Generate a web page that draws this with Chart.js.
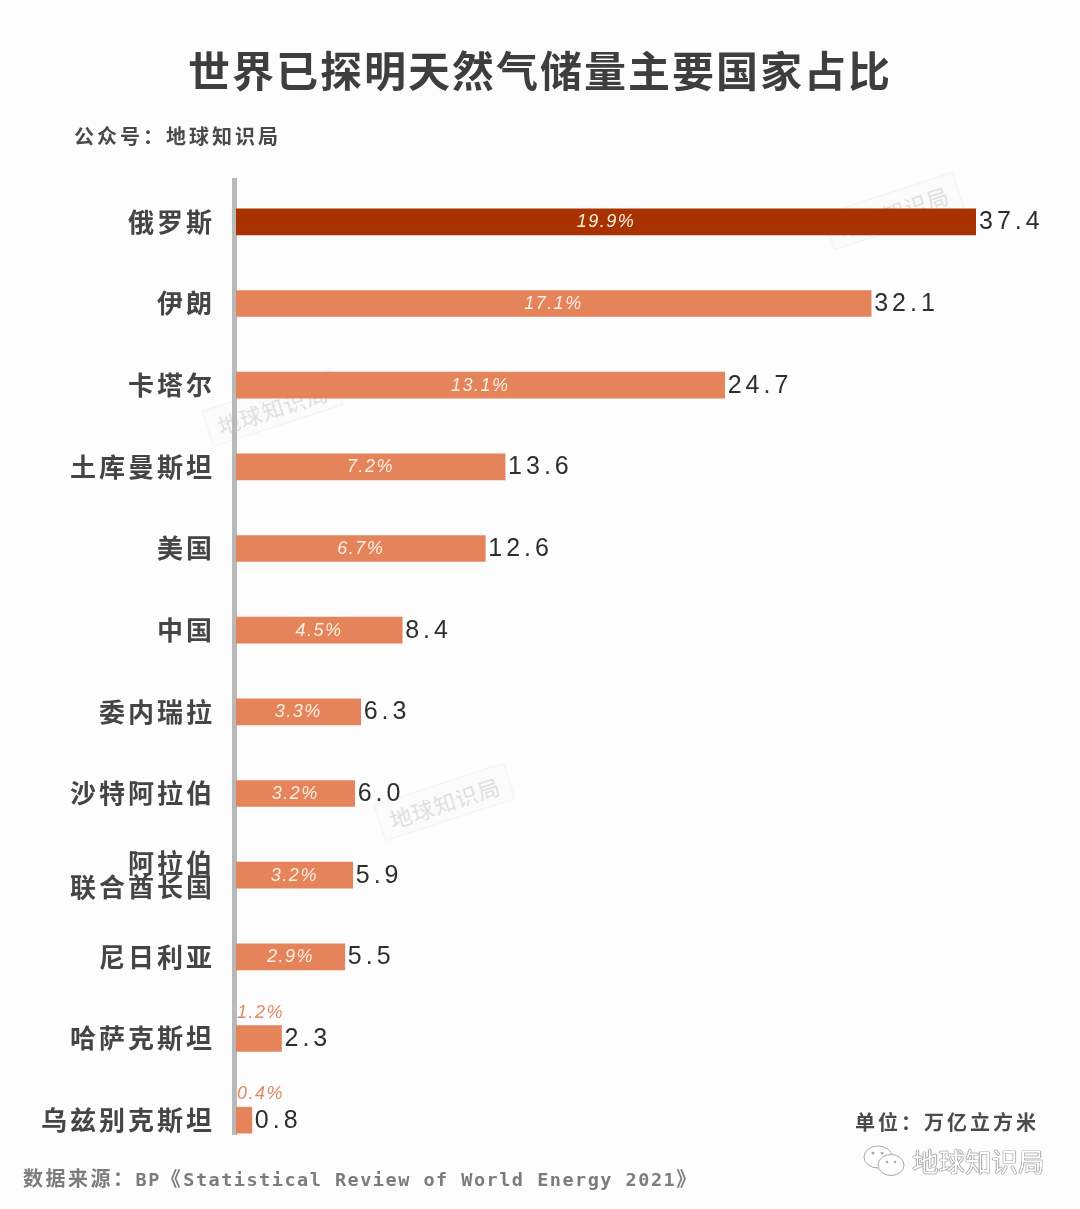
<!DOCTYPE html>
<html lang="zh">
<head>
<meta charset="utf-8">
<title>世界已探明天然气储量主要国家占比</title>
<script src="https://cdn.jsdelivr.net/npm/chart.js@4"></script>
<style>
  html, body { margin: 0; padding: 0; background: #fdfdfd; }
  #page { position: relative; width: 1080px; height: 1209px; overflow: hidden; font-family: "Noto Sans CJK SC", sans-serif; }
  #page div { position: absolute; white-space: nowrap; }
  #page canvas { position: absolute; left: 0; top: 0; }
  #title { left: 0; width: 1080px; top: 39px; text-align: center; font-size: 42px; line-height: 60px; font-weight: 700; letter-spacing: 2px; color: #3e3e3e; }
  #sub { left: 74px; top: 122px; font-size: 20px; line-height: 28px; font-weight: 700; letter-spacing: 3px; color: #4a4a4a; }
  #unit { left: 855px; top: 1108px; font-size: 20px; line-height: 28px; font-weight: 700; letter-spacing: 3px; color: #4a4a4a; }
  #source { left: 23px; top: 1164px; font-family: "DejaVu Sans Mono", "Noto Sans CJK SC", monospace; font-size: 18.5px; line-height: 28px; font-weight: 700; letter-spacing: 1.5px; color: #7c7c7c; }
  #source span { font-family: "Noto Sans CJK SC", sans-serif; font-size: 20px; letter-spacing: 2.5px; }
  .mark { padding: 3px 10px; font-size: 22px; line-height: 30px; letter-spacing: 1px; color: #e0e0e0; background: #fbfbfb; border: 1px solid #f2f2f2; transform: rotate(-18deg); }
  #brand { left: 912px; top: 1142px; font-size: 26.5px; line-height: 38px; color: #fff; text-shadow: 0 0 1px #555, 0 0 1px #555, 0 0 1px #777; }
  #wechat { left: 862px; top: 1144px; }
</style>
</head>
<body>
<div id="page">
  <div class="mark" style="left:825px;top:192px">地球知识局</div>
  <div class="mark" style="left:204px;top:389px">地球知识局</div>
  <div class="mark" style="left:376px;top:783px">地球知识局</div>
  <canvas id="gasChart" width="1080" height="1209"></canvas>
  <div id="title">世界已探明天然气储量主要国家占比</div>
  <div id="sub">公众号：地球知识局</div>
  <div id="unit">单位：万亿立方米</div>
  <div id="source"><span>数据来源：</span>BP<span>《</span>Statistical Review of World Energy 2021<span>》</span></div>
  <div id="wechat">
    <svg width="44" height="36" viewBox="0 0 44 36">
      <ellipse cx="16" cy="13" rx="14" ry="11" fill="#fff" stroke="#aaa" stroke-width="1"/>
      <ellipse cx="29" cy="21" rx="13" ry="10.5" fill="#fff" stroke="#aaa" stroke-width="1"/>
      <circle cx="11" cy="9" r="1.5" fill="#aaa"/><circle cx="20" cy="9" r="1.5" fill="#aaa"/>
      <circle cx="25" cy="18" r="1.3" fill="#aaa"/><circle cx="33" cy="18" r="1.3" fill="#aaa"/>
    </svg>
  </div>
  <div id="brand">地球知识局</div>
</div>
<script>
const countries = ['俄罗斯', '伊朗', '卡塔尔', '土库曼斯坦', '美国', '中国', '委内瑞拉', '沙特阿拉伯',
  ['阿拉伯', '联合酋长国'], '尼日利亚', '哈萨克斯坦', '乌兹别克斯坦'];
const reserves = [37.4, 32.1, 24.7, 13.6, 12.6, 8.4, 6.3, 6.0, 5.9, 5.5, 2.3, 0.8];
const shares = ['19.9%', '17.1%', '13.1%', '7.2%', '6.7%', '4.5%', '3.3%', '3.2%', '3.2%', '2.9%', '1.2%', '0.4%'];

const barColors = reserves.map((v, i) => (i === 0 ? '#a83300' : '#e5835a'));

// grey axis bar, it stops short of the plot area so the scale border is no use here
const axisLine = {
  id: 'axisLine',
  beforeDraw(chart) {
    const c = chart.ctx;
    c.save();
    c.fillStyle = '#b9b9b9';
    c.fillRect(chart.scales.x.getPixelForValue(0) - 4, 178, 5, 957);
    c.restore();
    c.letterSpacing = '3px'; // picked up by the category ticks
  },
};

const barLabels = {
  id: 'barLabels',
  afterDatasetsDraw(chart) {
    const c = chart.ctx;
    const bars = chart.getDatasetMeta(0).data;
    c.save();
    bars.forEach((bar, i) => {
      c.textBaseline = 'middle';

      c.textAlign = 'left';
      c.font = '25px "Liberation Sans", sans-serif';
      c.letterSpacing = '4px';
      c.fillStyle = '#2e2e2e';
      c.fillText(reserves[i].toFixed(1), bar.x + 3, bar.y + 0.5);

      c.font = 'italic 18px "Liberation Sans", sans-serif';
      c.letterSpacing = '1.5px';
      const w = c.measureText(shares[i]).width;
      if (bar.width > w + 10) {
        c.fillStyle = '#fdf0e2';
        c.textAlign = 'center';
        c.fillText(shares[i], (bar.base + bar.x) / 2, bar.y + 0.5);
      } else {
        c.fillStyle = '#e08a62';
        c.textAlign = 'left';
        c.fillText(shares[i], bar.base + 1, bar.y - 26);
      }
    });
    c.restore();
  },
};

new Chart(document.getElementById('gasChart').getContext('2d'), {
  type: 'bar',
  data: {
    labels: countries,
    datasets: [{
      data: reserves,
      backgroundColor: barColors,
      barThickness: 26,
    }],
  },
  options: {
    indexAxis: 'y',
    responsive: false,
    animation: false,
    layout: { padding: { top: 181, bottom: 48, right: 104, left: 0 } },
    plugins: {
      legend: { display: false },
      tooltip: { enabled: false },
    },
    scales: {
      x: { display: false, min: 0, max: Math.max(...reserves) },
      y: {
        afterFit(scale) { scale.width = 236; },
        border: { display: false },
        grid: { display: false, drawTicks: false },
        ticks: {
          autoSkip: false,
          padding: 21,
          color: '#454545',
          font: { family: '"Noto Sans CJK SC", sans-serif', size: 26, weight: 'bold', lineHeight: 0.92 },
        },
      },
    },
  },
  plugins: [axisLine, barLabels],
});
</script>
</body>
</html>
